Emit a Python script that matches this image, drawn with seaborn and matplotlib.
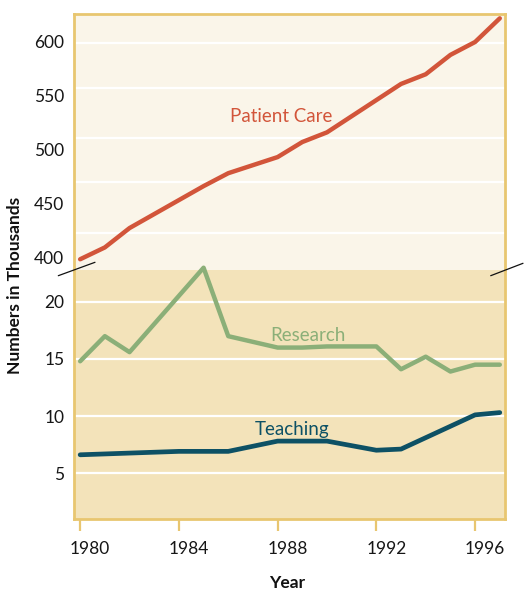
import matplotlib
matplotlib.use("Agg")
import matplotlib.pyplot as plt
import matplotlib.transforms as mtransforms
from matplotlib.lines import Line2D
import pandas as pd
import seaborn as sns

# data (numbers in thousands)
care_years = [1980, 1981, 1982, 1985, 1986, 1988, 1989, 1990, 1993, 1994, 1995, 1996, 1997]
care_values = [398, 409, 427, 466, 478, 493, 507, 516, 561, 570, 588, 600, 622]

research_years = [1980, 1981, 1982, 1985, 1986, 1988, 1989, 1990, 1992, 1993, 1994, 1995, 1996, 1997]
research_values = [14.8, 17.0, 15.6, 23.0, 17.0, 16.0, 16.0, 16.1, 16.1, 14.1, 15.2, 13.9, 14.5, 14.5]

teaching_years = [1980, 1984, 1986, 1988, 1990, 1992, 1993, 1996, 1997]
teaching_values = [6.6, 6.9, 6.9, 7.8, 7.8, 7.0, 7.1, 10.1, 10.3]

top_ticks = [400, 450, 500, 550, 600]
top_grid = [422, 470, 511, 557, 599]
bottom_ticks = [5, 10, 15, 20]
year_ticks = [1980, 1984, 1988, 1992, 1996]

CARE_COLOR = "#D2553A"
RESEARCH_COLOR = "#8BAF78"
TEACHING_COLOR = "#0D5165"
TOP_BG = "#FAF5E9"
BOTTOM_BG = "#F3E3BA"
FRAME = "#E8C670"
INK = "#161616"


def style_panel(ax, bg):
    ax.set_facecolor(bg)
    for side in ["left", "right", "top", "bottom"]:
        ax.spines[side].set_color(FRAME)
        ax.spines[side].set_linewidth(2)
    ax.set_xlim(1979.75, 1997.2)
    ax.set_xlabel("")
    ax.set_ylabel("")
    ax.tick_params(axis="y", length=0, pad=7, labelsize=12.5, colors=INK)


def main():
    sns.set_theme(style="white")
    plt.rcParams["font.family"] = ["Lato", "DejaVu Sans"]

    care = pd.DataFrame({"year": care_years, "value": care_values})
    research = pd.DataFrame({"year": research_years, "value": research_values})
    teaching = pd.DataFrame({"year": teaching_years, "value": teaching_values})

    fig = plt.figure(figsize=(5.24, 5.92), dpi=100)
    ax_top = fig.add_axes([0.1412, 0.5439, 0.822, 0.4324])
    ax_bot = fig.add_axes([0.1412, 0.1233, 0.822, 0.4206])

    # top panel: patient care
    style_panel(ax_top, TOP_BG)
    ax_top.spines["bottom"].set_visible(False)
    ax_top.set_ylim(388, 626)
    ax_top.set_yticks(top_ticks)
    ax_top.set_yticks(top_grid, minor=True)
    ax_top.tick_params(axis="y", which="minor", length=0)
    ax_top.grid(which="minor", axis="y", color="white", linewidth=1.6)
    ax_top.set_axisbelow(True)
    ax_top.set_xticks([])
    sns.lineplot(data=care, x="year", y="value", ax=ax_top, color=CARE_COLOR,
                 linewidth=3.2, legend=False)
    ax_top.set_xlabel("")
    ax_top.set_ylabel("")
    ax_top.text(1988.16, 525.3, "Patient Care", color=CARE_COLOR, fontsize=13.5,
                ha="center", va="baseline")

    # bottom panel: research and teaching
    style_panel(ax_bot, BOTTOM_BG)
    ax_bot.spines["top"].set_visible(False)
    ax_bot.set_ylim(0.97, 22.8)
    ax_bot.set_yticks(bottom_ticks)
    ax_bot.grid(axis="y", color="white", linewidth=1.6)
    ax_bot.set_axisbelow(True)
    sns.lineplot(data=research, x="year", y="value", ax=ax_bot, color=RESEARCH_COLOR,
                 linewidth=3.2, legend=False, clip_on=False)
    sns.lineplot(data=teaching, x="year", y="value", ax=ax_bot, color=TEACHING_COLOR,
                 linewidth=3.4, legend=False)
    ax_bot.set_xlabel("")
    ax_bot.set_ylabel("")
    ax_bot.text(1989.23, 16.58, "Research", color=RESEARCH_COLOR, fontsize=13.5,
                ha="center", va="baseline")
    ax_bot.text(1988.6, 8.33, "Teaching", color=TEACHING_COLOR, fontsize=13.5,
                ha="center", va="baseline")

    ax_bot.set_xticks(year_ticks)
    ax_bot.tick_params(axis="x", direction="out", length=8.6, width=1.6, color=FRAME,
                       pad=7, labelsize=12.5, labelcolor=INK, bottom=True)
    shift = mtransforms.ScaledTranslation(0.1, 0, fig.dpi_scale_trans)
    for lab in ax_bot.get_xticklabels():
        lab.set_transform(lab.get_transform() + shift)

    # axis titles
    fig.text(287.6 / 524, (592 - 583) / 592, "Year", fontsize=12.5, fontweight="bold",
             ha="center", va="center", color="#111111")
    fig.text(15 / 524, (592 - 285) / 592, "Numbers in Thousands", fontsize=12.5,
             fontweight="bold", rotation=90, ha="center", va="center", color="#111111")

    # break marks
    for x0, y0, x1, y1 in [(58.3, 275.7, 95, 262.3), (490.7, 275.7, 523, 263.3)]:
        fig.add_artist(Line2D([x0 / 524, x1 / 524], [(592 - y0) / 592, (592 - y1) / 592],
                              transform=fig.transFigure, color="#111111", linewidth=0.9))

    fig.savefig("out.png", dpi=100)
    plt.close(fig)


if __name__ == "__main__":
    main()
